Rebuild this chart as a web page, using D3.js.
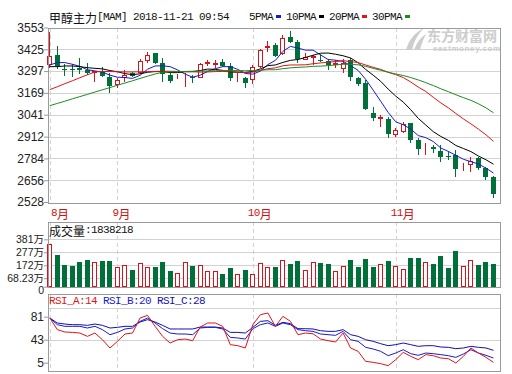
<!DOCTYPE html>
<html><head><meta charset="utf-8">
<script src="https://cdn.jsdelivr.net/npm/d3@7"></script>
<style>body{margin:0;background:#fff}svg{display:block}</style>
</head><body>
<svg id="c" width="512" height="374"></svg>
<script>
// ---------- data ----------
const title = "甲醇主力[MAM] 2018-11-21 09:54";
const open  = [3339,3392,3312,3312,3316,3304,3290,3290,3265,3221, 3265,3284,3290,3363,3402,3347,3272,3262,3262,3265, 3265,3345,3341,3353,3329,3255,3255,3251,3327,3439, 3451,3402,3500,3467,3367,3378,3363,3357,3341,3314, 3363,3255,3225,3053,3019,3015,2927,2946,2990,2892, 2860,2852,2829,2799,2803,2743,2750,2788,2725,2676];
const high  = [3524,3447,3337,3337,3376,3347,3298,3323,3288,3255, 3304,3290,3369,3412,3406,3373,3284,3280,3284,3274, 3343,3363,3363,3369,3343,3284,3265,3333,3425,3471, 3461,3510,3530,3480,3406,3392,3396,3367,3363,3367, 3373,3261,3245,3088,3039,3025,2960,2999,2994,2901, 2872,2862,2862,2829,2833,2758,2790,2790,2735,2680];
const low   = [3314,3308,3268,3265,3278,3274,3235,3261,3166,3196, 3235,3262,3278,3347,3339,3235,3229,3249,3206,3225, 3255,3327,3314,3323,3241,3235,3196,3219,3314,3412, 3380,3392,3461,3343,3363,3333,3349,3304,3314,3284, 3239,3210,3068,3005,2966,2901,2907,2935,2872,2803, 2807,2813,2764,2774,2672,2711,2705,2715,2656,2554];
const close = [3386,3329,3304,3304,3302,3284,3298,3268,3212,3245, 3274,3270,3357,3392,3343,3280,3241,3265,3265,3255, 3339,3349,3345,3329,3255,3259,3229,3323,3421,3443, 3386,3494,3467,3369,3382,3386,3357,3333,3345,3347, 3261,3221,3072,3023,3025,2927,2950,2986,2892,2837, 2864,2837,2793,2795,2721,2747,2768,2725,2676,2574];
const ma5  = [3333,3347,3347,3337,3325,3305,3298,3291,3273,3261, 3259,3254,3272,3308,3327,3328,3323,3304,3279,3261, 3273,3295,3311,3323,3323,3307,3283,3279,3297,3335, 3360,3413,3442,3432,3420,3420,3392,3365,3361,3354, 3329,3301,3249,3185,3120,3054,2999,2982,2956,2918, 2906,2883,2845,2825,2802,2779,2765,2751,2727,2698];
const ma10 = [3323,3323,3327,3327,3323,3317,3313,3310,3300,3293, 3282,3276,3281,3290,3294,3294,3288,3288,3293,3294, 3300,3309,3307,3301,3292,3290,3289,3295,3310,3329, 3333,3348,3360,3365,3377,3390,3402,3403,3396,3387, 3374,3346,3307,3273,3237,3191,3150,3115,3070,3019, 2980,2941,2913,2890,2860,2842,2824,2798,2776,2750];
const ma20 = [3188,3205,3223,3240,3258,3275,3292,3295,3294,3293, 3292,3292,3293,3294,3295,3296,3296,3295,3294,3293, 3291,3292,3294,3295,3293,3292,3288,3291,3301,3311, 3316,3328,3333,3333,3334,3340,3345,3349,3353,3358, 3353,3347,3333,3319,3307,3290,3276,3259,3233,3203, 3177,3143,3110,3081,3048,3016,2987,2956,2923,2884];
const ma30 = [3094,3107,3120,3134,3147,3160,3174,3187,3200,3214, 3227,3240,3254,3267,3280,3290,3293,3294,3295,3296, 3297,3298,3299,3300,3300,3300,3299,3300,3302,3305, 3305,3311,3316,3319,3321,3325,3326,3329,3333,3337, 3336,3334,3325,3313,3302,3290,3280,3271,3259,3245, 3229,3212,3193,3176,3158,3141,3125,3105,3081,3052];
const volume = [343,257,177,166,199,215,199,207,207,156, 174,134,188,156,158,199,126,108,196,166, 174,124,124,102,150,102,134,102,188,156, 158,212,182,207,134,196,190,182,124,164, 215,158,223,158,182,207,164,140,231,231, 199,182,249,150,287,164,212,177,199,183.8];
const rsiA = [78.8,59.6,55.7,55.1,54.0,48.5,54.0,43.0,29.3,40.3, 52.4,54.0,78.8,83.2,65.1,48.5,37.5,43.0,44.1,41.4, 63.9,70.6,70.6,65.1,34.8,33.1,29.3,67.8,84.3,87.1, 65.1,81.6,73.3,51.3,54.0,52.9,44.1,41.4,39.2,54.0, 29.3,23.8,7.2,5.6,3.4,0.1,10.0,22.1,15.5,10.0, 18.3,16.6,12.7,11.6,4.5,15.5,29.3,21.0,13.8,5.6];
const rsiB = [78.8,67.8,65.1,65.1,65.1,62.3,65.1,59.6,51.3,55.1, 60.7,62.3,73.3,78.8,70.6,61.2,54.0,52.4,52.4,51.3, 62.3,63.4,63.4,60.7,46.9,45.8,44.1,61.2,67.8,70.6, 65.1,70.6,67.8,59.6,57.9,56.8,52.4,51.3,50.2,56.8, 43.0,40.3,30.4,27.6,23.8,16.6,21.0,26.5,19.9,17.2, 21.0,19.9,18.3,16.6,13.8,19.4,26.5,21.0,17.2,12.7];
const rsiC = [78.8,70.6,68.9,67.8,67.8,66.7,68.9,66.7,62.3,63.4, 65.1,65.1,72.2,76.1,72.2,66.7,60.7,60.7,60.7,60.7, 63.9,63.9,63.9,62.3,55.1,55.1,54.0,63.4,73.3,74.4, 66.7,71.7,69.5,61.2,61.2,60.7,57.9,56.8,56.8,59.6, 51.3,48.5,43.0,40.3,36.4,33.1,34.8,37.5,34.8,32.0, 33.1,33.1,30.9,30.4,28.2,29.3,32.0,30.4,29.3,25.4];
const priceTicks = [3553,3425,3297,3169,3041,2912,2784,2656,2528];
const volTicks = [381,277,172,68.23,0];
const volTickLabels = ["381万","277万","172万","68.23万","0"];
const rsiTicks = [81,43,5];
const monthLabels = ["8月","9月","10月","11月"];
const monthStart = [0,9,27,46];
const maNames = ["5PMA","10PMA","20PMA","30PMA"];
const rsiNames = ["RSI_A:14","RSI_B:20","RSI_C:28"];
const volTitle = "成交量:1838218";

// ---------- layout ----------
const svg = d3.select("#c");
const L = 48, R = 500;
const P = {top:27.5, bottom:202}, V = {top:222, bottom:287}, S = {top:294, bottom:371};
const RED = "#d4141c", GREEN = "#00703a", GRID = "#d2d2d2", FRAME = "#9a9a9a";
const maColors = ["#1a1acd","#000000","#e01414","#1f8a1f"];
const rsiColors = ["#e01414","#1a1acd","#1010b0"];
const n = close.length;

const x = d3.scaleBand().domain(d3.range(n)).range([47.3, 47.3 + 7.52 * n]);
const cx = i => x(i) + 2.5;
const yP = d3.scaleLinear().domain([2528, 3553]).range([P.bottom, P.top]);
const yV = d3.scaleLinear().domain([0, 381]).range([286.7, 239.3]);
const yR = d3.scaleLinear().domain([5, 81]).range([362.7, 316.7]);
const crisp = v => Math.round(v) + 0.5;

function mixed(sel, str, xx, yy, opt = {}) {
  const t = sel.append("text").attr("x", xx).attr("y", yy)
    .attr("dominant-baseline", "central").attr("fill", opt.fill || "#111")
    .attr("text-anchor", opt.anchor || "start").style("white-space", "pre");
  const runs = str.match(/[\u3000-\u9fff\uff00-\uffef]+|[^\u3000-\u9fff\uff00-\uffef]+/g);
  runs.forEach(r => {
    const cjk = /[\u3000-\u9fff\uff00-\uffef]/.test(r);
    const ts = t.append("tspan").text(r);
    if (cjk) ts.attr("font-family", "Noto Sans CJK SC").attr("font-size", 12);
    else ts.attr("font-family", "Liberation Mono").attr("font-size", 11).attr("letter-spacing", -0.6);
  });
  return t;
}

// ---------- header ----------
mixed(svg, title, 49, 16.7);
let lx = 249;
maNames.forEach((m, k) => {
  mixed(svg, m, lx, 16.7);
  const w = m.length * 6;
  svg.append("rect").attr("x", lx + w + 3).attr("y", 15).attr("width", 5).attr("height", 3).attr("fill", maColors[k]);
  lx += w + 13;
});

// ---------- grids ----------
const grid = svg.append("g").attr("shape-rendering", "crispEdges");
priceTicks.slice(1, -1).forEach(t => grid.append("line").attr("x1", L).attr("x2", R)
  .attr("y1", crisp(yP(t))).attr("y2", crisp(yP(t))).attr("stroke", GRID));
volTicks.slice(0, -1).forEach(t => grid.append("line").attr("x1", L).attr("x2", R)
  .attr("y1", crisp(yV(t))).attr("y2", crisp(yV(t))).attr("stroke", GRID));
grid.append("line").attr("x1", L).attr("x2", R).attr("y1", 308.5).attr("y2", 308.5).attr("stroke", GRID);
grid.append("line").attr("x1", L).attr("x2", R).attr("y1", crisp(yR(43))).attr("y2", crisp(yR(43))).attr("stroke", GRID);
[P, V, S].forEach(p => monthStart.forEach(i => grid.append("line")
  .attr("x1", crisp(cx(i))).attr("x2", crisp(cx(i))).attr("y1", p.top).attr("y2", p.bottom)
  .attr("stroke", GRID).attr("stroke-dasharray", "4,3")));

// watermark
const wm = svg.append("g").attr("fill", "#cdcdcd");
wm.append("path").attr("d", "M406,50 C409,40 414,33 424,28 C418,34 414,41 412,50 Z");
wm.append("path").attr("d", "M414,50 C417,42 421,37 426,34 C423,40 421,45 420,50 Z");
wm.append("text").attr("x", 427).attr("y", 40.5).attr("font-family", "Noto Sans CJK SC")
  .attr("font-weight", "bold").attr("font-size", 14).text("东方财富网");
wm.append("text").attr("x", 433).attr("y", 50.5).attr("font-family", "Liberation Sans")
  .attr("font-weight", "bold").attr("font-size", 8).attr("letter-spacing", 0.6).text("eastmoney.com");

// ---------- axes ----------
function leftAxis(scale, ticks, labels, size) {
  const ax = d3.axisLeft(scale).tickValues(ticks).tickSize(4).tickPadding(0)
    .tickFormat((d, k) => labels ? labels[k] : d3.format("d")(d));
  const g = svg.append("g").attr("transform", `translate(${L},0)`).call(ax);
  g.select(".domain").remove();
  g.selectAll(".tick line").attr("stroke", FRAME);
  g.selectAll(".tick text").attr("font-family", "Liberation Sans, 'Noto Sans CJK SC'")
    .attr("font-size", size || 12).attr("fill", "#222");
  return g;
}
leftAxis(yP, priceTicks);
const vAx = leftAxis(yV, volTicks, volTickLabels, 10.5);
vAx.selectAll(".tick text").filter(d => d === 0).attr("dy", "0.62em");
leftAxis(yR, rsiTicks);

monthLabels.forEach((m, k) => {
  mixed(svg, m, Math.max(L + 3, cx(monthStart[k]) - 5), 213, {fill: "#cc1111"});
});

// ---------- candles ----------
const up = i => close[i] >= open[i];
const cg = svg.append("g");
const idx = d3.range(n);
cg.selectAll(".wick").data(idx).join("line")
  .attr("x1", i => crisp(cx(i) - 0.5)).attr("x2", i => crisp(cx(i) - 0.5))
  .attr("y1", i => yP(high[i])).attr("y2", i => yP(low[i]))
  .attr("stroke", i => up(i) ? RED : GREEN).attr("shape-rendering", "crispEdges");
cg.selectAll(".body").data(idx).join("rect")
  .attr("shape-rendering", "crispEdges")
  .attr("x", i => up(i) ? crisp(cx(i) - 0.5) - 2 : Math.round(cx(i) - 0.5) - 2)
  .attr("y", i => up(i) ? crisp(yP(Math.max(open[i], close[i]))) : Math.round(yP(Math.max(open[i], close[i]))))
  .attr("width", i => up(i) ? 4 : 5)
  .attr("height", i => {
    const h = Math.round(yP(Math.min(open[i], close[i]))) - Math.round(yP(Math.max(open[i], close[i])));
    return up(i) ? h : Math.max(1, h);
  })
  .attr("fill", i => up(i) ? "#fff" : GREEN)
  .attr("stroke", i => up(i) ? RED : "none");

// moving averages
[ma5, ma10, ma20, ma30].forEach((s, k) => {
  svg.append("path").datum(s).attr("fill", "none").attr("stroke", maColors[k]).attr("stroke-width", 1)
    .attr("d", d3.line().x((d, i) => cx(i)).y(d => yP(d)));
});

// ---------- volume ----------
mixed(svg, volTitle, 49, 230);
svg.append("g").attr("shape-rendering", "crispEdges").selectAll("rect").data(idx).join("rect")
  .attr("x", i => up(i) ? crisp(cx(i) - 0.5) - 2 : Math.round(cx(i) - 0.5) - 2)
  .attr("y", i => up(i) ? crisp(yV(volume[i])) : Math.round(yV(volume[i])))
  .attr("width", i => up(i) ? 4 : 5)
  .attr("height", i => Math.round(yV(0)) - Math.round(yV(volume[i])) - (up(i) ? 1 : 0))
  .attr("fill", i => up(i) ? "#fff" : GREEN)
  .attr("stroke", i => up(i) ? RED : "none");

// ---------- RSI ----------
let rx = 49;
rsiNames.forEach((r, k) => { mixed(svg, r, rx, 301, {fill: rsiColors[k]}); rx += (r.length + 1) * 6; });
svg.append("defs").append("clipPath").attr("id", "rc").append("rect")
  .attr("x", L).attr("y", S.top).attr("width", R - L).attr("height", S.bottom - S.top);
[rsiC, rsiB, rsiA].forEach((s, k) => {
  svg.append("path").datum(s).attr("clip-path", "url(#rc)").attr("fill", "none")
    .attr("stroke", [rsiColors[2], rsiColors[1], rsiColors[0]][k]).attr("stroke-width", 1)
    .attr("d", d3.line().x((d, i) => cx(i)).y(d => yR(d)));
});

// frames
[P, V, S].forEach(p => svg.append("rect").attr("x", L + 0.5).attr("y", Math.round(p.top) + 0.5)
  .attr("width", R - L).attr("height", Math.round(p.bottom - p.top))
  .attr("fill", "none").attr("stroke", FRAME).attr("shape-rendering", "crispEdges"));
</script>
</body></html>
